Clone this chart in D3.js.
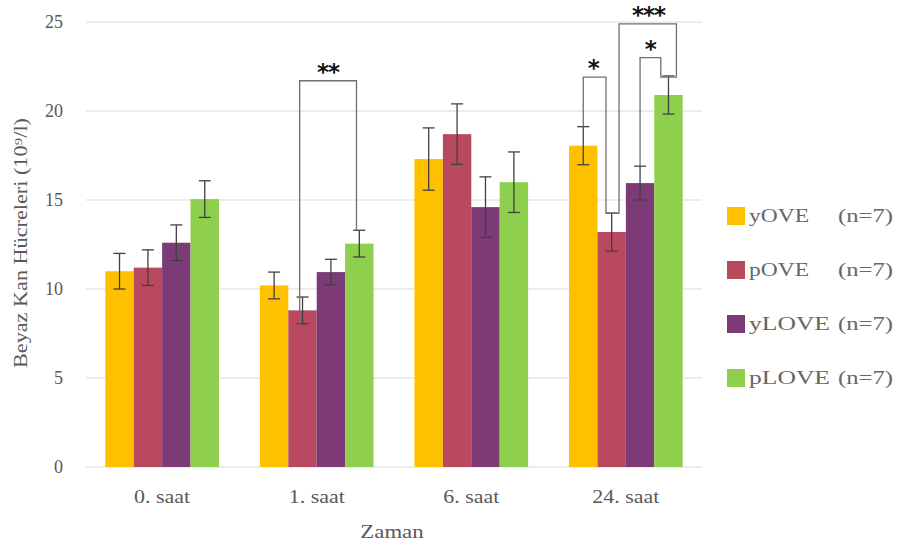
<!DOCTYPE html>
<html>
<head>
<meta charset="utf-8">
<script src="https://cdn.jsdelivr.net/npm/d3@7"></script>
<style>
  body { margin: 0; background: #fff; }
  svg text { font-family: "Liberation Serif", "Times New Roman", serif; fill: #595959; }
</style>
</head>
<body>
<svg id="chart" width="897" height="544"></svg>
<script>

// values
var categories = ["0. saat", "1. saat", "6. saat", "24. saat"];
var seriesNames = ["yOVE", "pOVE", "yLOVE", "pLOVE"];
var seriesN = ["(n=7)", "(n=7)", "(n=7)", "(n=7)"];

var yOVE  = [11.0, 10.2, 17.3, 18.05];
var pOVE  = [11.2, 8.8, 18.7, 13.2];
var yLOVE = [12.6, 10.95, 14.6, 15.95];
var pLOVE = [15.05, 12.55, 16.0, 20.9];

var yOVE_err  = [1.0, 0.75, 1.75, 1.07];
var pOVE_err  = [1.0, 0.75, 1.7, 1.07];
var yLOVE_err = [1.0, 0.72, 1.7, 0.95];
var pLOVE_err = [1.03, 0.75, 1.7, 1.07];

var yTicks = [0, 5, 10, 15, 20, 25];

// significance brackets: category, then [series position, value] corners
var bracketCats = [1, 3];
var bracketPts = [
  [[0.9, 8.0], [0.9, 21.7], [2.9, 21.7], [2.9, 13.3]],
  [[0, 19.1], [0, 21.9], [0.8, 21.9], [0.8, 14.25], [1.26, 14.25], [1.26, 24.9],
   [3.28, 24.9], [3.28, 21.9], [2.73, 21.9], [2.73, 23.0], [2, 23.0], [2, 16.9]]
];
var starCats = [1, 3, 3, 3];
var starPos = [1.9, 0.35, 2.3, 2.36];
var starVal = [21.7, 21.9, 24.9, 23.0];
var starLabels = ["**", "*", "***", "*"];

var colors = ["#FFC000", "#B9495F", "#7C3A77", "#8FCF4E"];

var values = [yOVE, pOVE, yLOVE, pLOVE];
var errs = [yOVE_err, pOVE_err, yLOVE_err, pLOVE_err];

var serif = "'Liberation Serif', 'Times New Roman', serif";

var svg = d3.select("#chart");

var plot = { left: 86, right: 702, top: 22, bottom: 467 };

var x0 = d3.scaleBand()
  .domain(d3.range(categories.length))
  .range([plot.left, plot.right])
  .paddingInner(0.265)
  .paddingOuter(0.125);

var x1 = d3.scaleBand()
  .domain(d3.range(seriesNames.length))
  .range([0, x0.bandwidth()]);

var y = d3.scaleLinear().domain([0, 25]).range([plot.bottom, plot.top]);

// x position inside a group from a (fractional) series position
function sx(cat, s) {
  return x0(cat) + (s + 0.5) * x1.bandwidth();
}

// gridlines
svg.append("g").selectAll("line")
  .data(yTicks)
  .enter().append("line")
  .attr("x1", plot.left).attr("x2", plot.right)
  .attr("y1", d => y(d)).attr("y2", d => y(d))
  .attr("stroke", "#d9d9d9").attr("stroke-width", 1);

// y tick labels
var yAxis = d3.axisLeft(y).tickValues(yTicks).tickSize(0).tickPadding(0);
var ya = svg.append("g").attr("transform", "translate(63,0)").call(yAxis);
ya.select(".domain").remove();
ya.selectAll("text")
  .style("font-family", serif).style("font-size", "18px").style("fill", "#595959")
  .attr("dy", "0.32em");

// x tick labels (text a bit wider than the font, like the picture)
svg.append("g").selectAll("text")
  .data(categories)
  .enter().append("text")
  .attr("transform", (d, i) => "translate(" + (x0(i) + x0.bandwidth() / 2) + ",503) scale(1.22,1)")
  .attr("text-anchor", "middle")
  .style("font-family", serif).style("font-size", "18px")
  .text(d => d);

// bars
var groups = svg.append("g").selectAll("g")
  .data(categories)
  .enter().append("g")
  .attr("transform", (d, i) => "translate(" + x0(i) + ",0)");

groups.selectAll("rect")
  .data((d, i) => values.map((v, s) => ({ s: s, v: v[i], e: errs[s][i] })))
  .enter().append("rect")
  .attr("x", d => x1(d.s))
  .attr("width", x1.bandwidth())
  .attr("y", d => y(d.v))
  .attr("height", d => y(0) - y(d.v))
  .attr("fill", d => colors[d.s]);

// error bars
var eb = groups.selectAll("g.err")
  .data((d, i) => values.map((v, s) => ({ s: s, v: v[i], e: errs[s][i] })))
  .enter().append("g").attr("class", "err")
  .attr("stroke", "#404040").attr("stroke-width", 1.3);

eb.append("line")
  .attr("x1", d => x1(d.s) + x1.bandwidth() / 2)
  .attr("x2", d => x1(d.s) + x1.bandwidth() / 2)
  .attr("y1", d => y(d.v + d.e)).attr("y2", d => y(d.v - d.e));
eb.append("line")
  .attr("x1", d => x1(d.s) + x1.bandwidth() / 2 - 6)
  .attr("x2", d => x1(d.s) + x1.bandwidth() / 2 + 6)
  .attr("y1", d => y(d.v + d.e)).attr("y2", d => y(d.v + d.e));
eb.append("line")
  .attr("x1", d => x1(d.s) + x1.bandwidth() / 2 - 6)
  .attr("x2", d => x1(d.s) + x1.bandwidth() / 2 + 6)
  .attr("y1", d => y(d.v - d.e)).attr("y2", d => y(d.v - d.e));

// significance brackets
var line = d3.line();
svg.append("g").selectAll("path")
  .data(bracketPts)
  .enter().append("path")
  .attr("d", (pts, k) => line(pts.map(p => [sx(bracketCats[k], p[0]), y(p[1])])))
  .attr("fill", "none")
  .attr("stroke", "#6f6f6f")
  .attr("stroke-width", 1.3);

svg.append("g").selectAll("text")
  .data(starLabels)
  .enter().append("text")
  .attr("x", (d, k) => sx(starCats[k], starPos[k]))
  .attr("y", (d, k) => y(starVal[k]) - 1)
  .attr("text-anchor", "middle")
  .style("font-family", "'DejaVu Sans', sans-serif")
  .style("font-weight", "bold")
  .style("font-size", "23px")
  .style("letter-spacing", "-1px")
  .style("fill", "#111")
  .text(d => d);

// axis titles
svg.append("text")
  .attr("transform", "translate(27,243) rotate(-90)")
  .attr("text-anchor", "middle")
  .style("font-family", serif).style("font-size", "18px")
  .attr("textLength", 250)
  .attr("lengthAdjust", "spacingAndGlyphs")
  .text("Beyaz Kan Hücreleri (10⁹/l)");

svg.append("text")
  .attr("transform", "translate(392,538) scale(1.2,1)")
  .attr("text-anchor", "middle")
  .style("font-family", serif).style("font-size", "19px")
  .text("Zaman");

// legend
var legend = svg.append("g").selectAll("g")
  .data(seriesNames)
  .enter().append("g")
  .attr("transform", (d, i) => "translate(727," + (216 + i * 54) + ")");

legend.append("rect")
  .attr("x", 0).attr("y", -9)
  .attr("width", 18).attr("height", 18)
  .attr("fill", (d, i) => colors[i]);

legend.append("text")
  .attr("x", 22).attr("y", 6)
  .style("font-family", serif).style("font-size", "18px")
  .style("fill", "#666")
  .attr("textLength", (d) => d.length === 4 ? 60 : 81)
  .attr("lengthAdjust", "spacingAndGlyphs")
  .text(d => d);

legend.append("text")
  .attr("x", 111).attr("y", 6)
  .style("font-family", serif).style("font-size", "18px")
  .style("fill", "#666")
  .attr("textLength", 55)
  .attr("lengthAdjust", "spacingAndGlyphs")
  .text((d, i) => seriesN[i]);

</script>
</body>
</html>
